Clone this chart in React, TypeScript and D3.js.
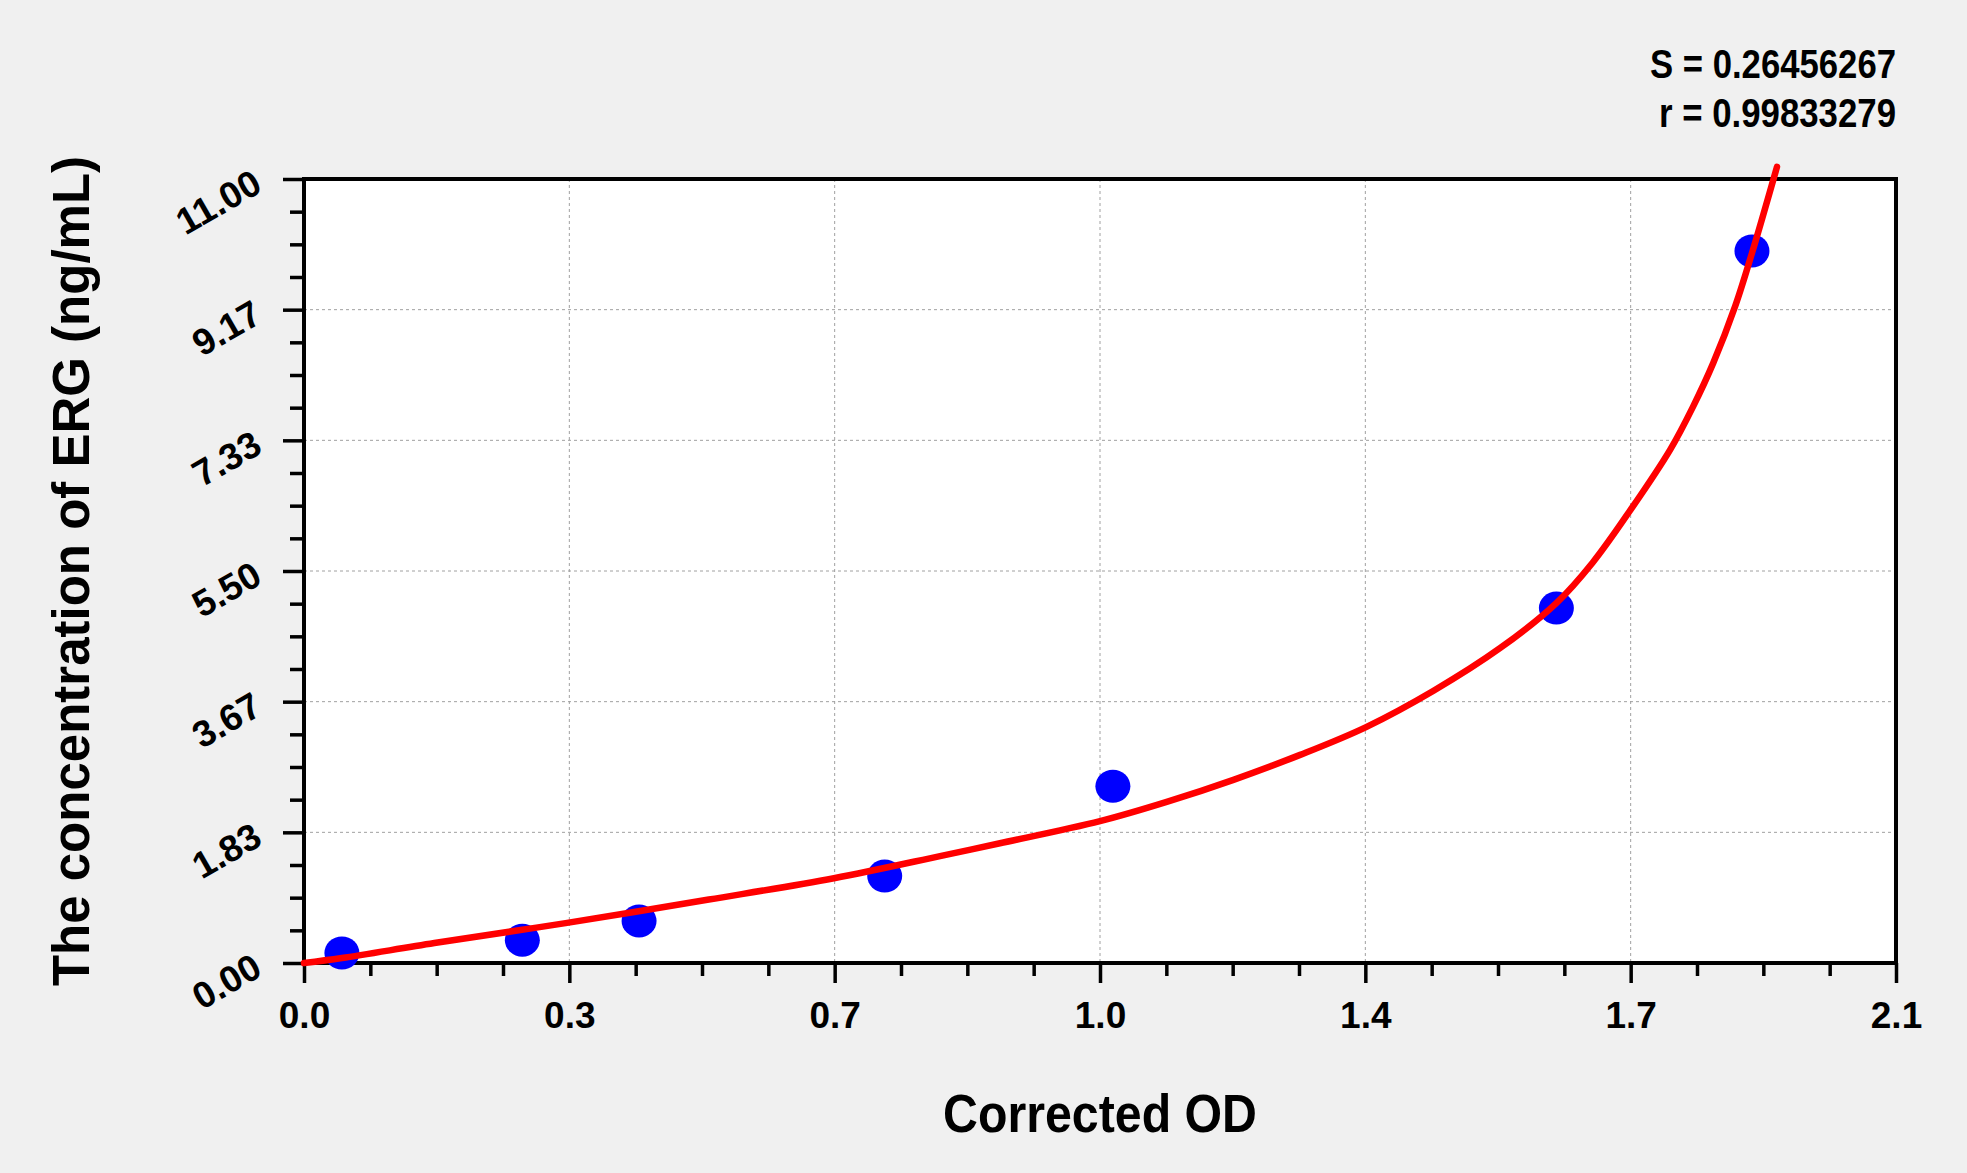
import { useEffect, useRef } from 'react';
import * as d3 from 'd3';

// standards
const standardOD = [0.05, 0.288, 0.442, 0.766, 1.067, 1.652, 1.91];
const standardConc = [0.14, 0.32, 0.59, 1.22, 2.48, 4.98, 9.99];

// fitted curve
const curveOD = [
  0, 0.05, 0.172, 0.345, 0.534, 0.699, 0.839, 0.918, 1.05, 1.138, 1.226, 1.314,
  1.401, 1.49, 1.578, 1.652, 1.7, 1.75, 1.802, 1.832, 1.859, 1.888, 1.91, 1.943,
];
const curveConc = [
  0, 0.07, 0.28, 0.56, 0.89, 1.19, 1.5, 1.68, 1.99, 2.26, 2.57, 2.92, 3.31,
  3.82, 4.42, 5.05, 5.62, 6.36, 7.2, 7.8, 8.42, 9.22, 9.96, 11.17,
];

const xTickLabels = ['0.0', '0.3', '0.7', '1.0', '1.4', '1.7', '2.1'];
const yTickLabels = ['0.00', '1.83', '3.67', '5.50', '7.33', '9.17', '11.00'];

const xMax = 2.1;
const yMax = 11;
const statLines = ['S = 0.26456267', 'r = 0.99833279'];

const W = 1967;
const H = 1173;
const FONT = '"Liberation Sans", Arial, Helvetica, sans-serif';

export default function App() {
  const svgRef = useRef<SVGSVGElement | null>(null);

  useEffect(() => {
    const svgEl = svgRef.current;
    if (!svgEl) return;
    const svg = d3.select(svgEl);
    svg.selectAll('*').remove();

    const margin = { top: 179, right: W - 1896, bottom: H - 963, left: 304 };
    const innerW = W - margin.left - margin.right;
    const innerH = H - margin.top - margin.bottom;

    svg.append('rect').attr('width', W).attr('height', H).attr('fill', '#f0f0f0');

    const g = svg
      .append('g')
      .attr('transform', `translate(${margin.left},${margin.top})`);

    const x = d3.scaleLinear().domain([0, xMax]).range([0, innerW]);
    const y = d3.scaleLinear().domain([0, yMax]).range([innerH, 0]);

    const xMajor = xTickLabels.map((_, i) => (i * xMax) / (xTickLabels.length - 1));
    const yMajor = yTickLabels.map((_, i) => (i * yMax) / (yTickLabels.length - 1));
    const xMinor = d3.range(0, 25).map((i) => (i * xMax) / 24).filter((_, i) => i % 4 !== 0);
    const yMinor = d3.range(0, 25).map((i) => (i * yMax) / 24).filter((_, i) => i % 4 !== 0);

    g.append('rect').attr('width', innerW).attr('height', innerH).attr('fill', '#ffffff');

    // grid
    const grid = g
      .append('g')
      .attr('stroke', '#a0a0a0')
      .attr('stroke-width', 1)
      .attr('stroke-dasharray', '3,3');
    grid
      .selectAll('line.v')
      .data(xMajor.slice(1, -1))
      .join('line')
      .attr('x1', (d) => x(d))
      .attr('x2', (d) => x(d))
      .attr('y1', 0)
      .attr('y2', innerH);
    grid
      .selectAll('line.h')
      .data(yMajor.slice(1, -1))
      .join('line')
      .attr('x1', 0)
      .attr('x2', innerW)
      .attr('y1', (d) => y(d))
      .attr('y2', (d) => y(d));

    const styleAxis = (sel: d3.Selection<SVGGElement, unknown, null, undefined>) => {
      sel.select('.domain').remove();
      sel.selectAll('line').attr('stroke', '#000').attr('stroke-width', 3.5);
    };

    // x axis
    g.append('g')
      .attr('transform', `translate(0,${innerH})`)
      .call(d3.axisBottom(x).tickValues(xMinor).tickSize(13).tickFormat(() => ''))
      .call(styleAxis);
    const xAx = g
      .append('g')
      .attr('transform', `translate(0,${innerH})`)
      .call(
        d3
          .axisBottom(x)
          .tickValues(xMajor)
          .tickSize(20)
          .tickFormat((_, i) => xTickLabels[i]),
      )
      .call(styleAxis);
    xAx
      .selectAll('text')
      .attr('y', 65)
      .attr('dy', null)
      .attr('fill', '#000')
      .attr('font-family', FONT)
      .attr('font-weight', 'bold')
      .attr('font-size', 37);

    // y axis
    g.append('g')
      .call(d3.axisLeft(y).tickValues(yMinor).tickSize(14).tickFormat(() => ''))
      .call(styleAxis);
    const yAx = g
      .append('g')
      .call(
        d3
          .axisLeft(y)
          .tickValues(yMajor)
          .tickSize(21)
          .tickFormat((_, i) => yTickLabels[i]),
      )
      .call(styleAxis);
    yAx
      .selectAll('text')
      .attr('x', null)
      .attr('dy', null)
      .attr('transform', 'translate(-40,11) rotate(-30)')
      .attr('text-anchor', 'end')
      .attr('fill', '#000')
      .attr('font-family', FONT)
      .attr('font-weight', 'bold')
      .attr('font-size', 37);

    // frame
    g.append('rect')
      .attr('width', innerW)
      .attr('height', innerH)
      .attr('fill', 'none')
      .attr('stroke', '#000')
      .attr('stroke-width', 4);

    // standards
    g.append('g')
      .selectAll('ellipse')
      .data(standardOD)
      .join('ellipse')
      .attr('cx', (d) => x(d))
      .attr('cy', (_, i) => y(standardConc[i]))
      .attr('rx', 17.5)
      .attr('ry', 16.5)
      .attr('fill', '#0000ff');

    // fitted curve
    const line = d3
      .line<number>()
      .x((d) => x(d))
      .y((_, i) => y(curveConc[i]))
      .curve(d3.curveCatmullRom.alpha(0.5));
    g.append('path')
      .datum(curveOD)
      .attr('d', line)
      .attr('fill', 'none')
      .attr('stroke', '#ff0000')
      .attr('stroke-width', 6.5)
      .attr('stroke-linecap', 'round');

    // titles
    svg
      .append('text')
      .attr('x', margin.left + innerW / 2)
      .attr('y', 1132)
      .attr('text-anchor', 'middle')
      .attr('font-family', FONT)
      .attr('font-weight', 'bold')
      .attr('font-size', 53)
      .attr('textLength', 314)
      .attr('lengthAdjust', 'spacingAndGlyphs')
      .text('Corrected OD');

    svg
      .append('text')
      .attr('transform', `translate(89,${margin.top + innerH / 2}) rotate(-90)`)
      .attr('text-anchor', 'middle')
      .attr('font-family', FONT)
      .attr('font-weight', 'bold')
      .attr('font-size', 51)
      .text('The concentration of ERG (ng/mL)');

    svg
      .selectAll('text.stat')
      .data(statLines)
      .join('text')
      .attr('class', 'stat')
      .attr('x', 1896)
      .attr('y', (_, i) => 78 + i * 49)
      .attr('text-anchor', 'end')
      .attr('font-family', FONT)
      .attr('font-weight', 'bold')
      .attr('font-size', 40)
      .attr('textLength', (_, i) => (i === 0 ? 246 : 237))
      .attr('lengthAdjust', 'spacingAndGlyphs')
      .text((d) => d);
  }, []);

  return (
    <svg
      ref={svgRef}
      width={W}
      height={H}
      style={{ position: 'absolute', left: 0, top: 0, display: 'block' }}
    />
  );
}
